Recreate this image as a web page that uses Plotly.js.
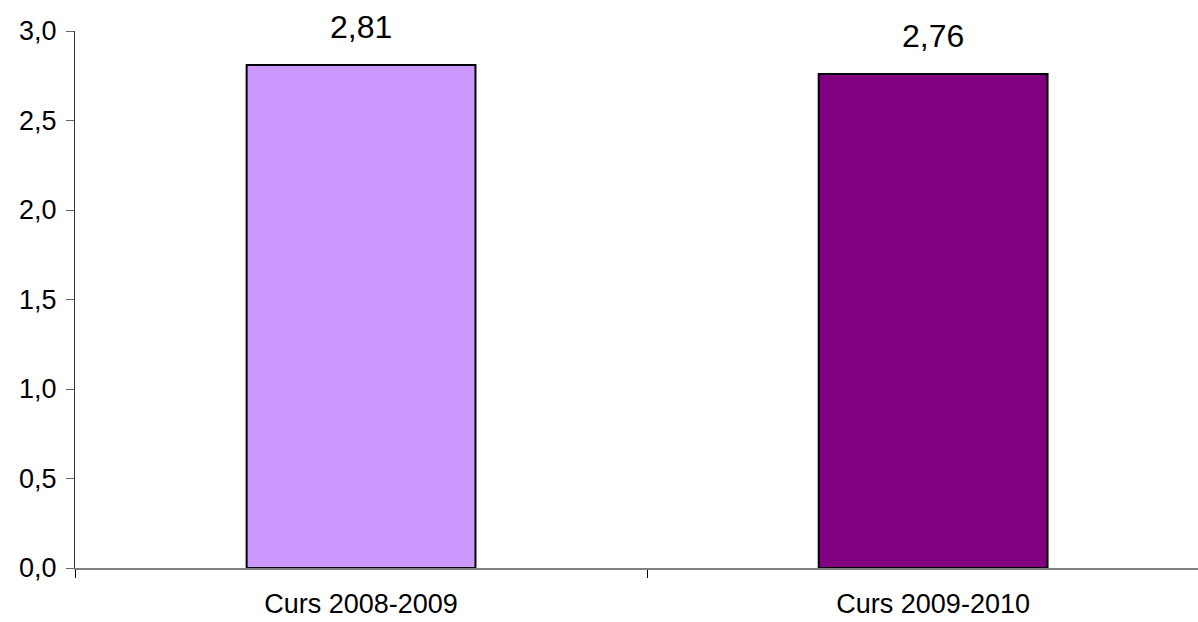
<!DOCTYPE html>
<html><head><meta charset="utf-8">
<script src="https://cdn.plot.ly/plotly-3.0.1.min.js"></script>
<style>html,body{margin:0;padding:0;background:#fff}</style>
</head><body>
<div id="chart" style="width:1198px;height:622px"></div>
<script>
const categories = ["Curs 2008-2009", "Curs 2009-2010"];
const values = [2.81, 2.76];
const barColors = ["#CC99FF", "#800080"];
const yTicks = [0, 0.5, 1, 1.5, 2, 2.5, 3];

const FONT = "Liberation Sans, Arial, sans-serif";

const trace = {
  type: "bar",
  x: categories,
  y: values,
  marker: {color: barColors, line: {color: "#000", width: 2}},
  width: 0.4,
  hoverinfo: "none"
};

const annotations = categories.map((c, i) => ({
  x: c, y: values[i], xref: "x", yref: "y",
  text: values[i].toFixed(2).replace(".", ","),
  showarrow: false, yanchor: "bottom", yshift: 18,
  font: {family: FONT, size: 32, color: "#000"}
}));

const layout = {
  width: 1198, height: 622,
  margin: {l: 75, r: 0, t: 31, b: 54},
  separators: ",.",
  paper_bgcolor: "#fff", plot_bgcolor: "#fff",
  showlegend: false,
  font: {family: FONT, color: "#000"},
  annotations: annotations,
  xaxis: {
    type: "category",
    range: [-0.5, 1.463],
    tickson: "boundaries",
    ticks: "outside", ticklen: 8, tickcolor: "#000", tickwidth: 1,
    showline: true, linecolor: "#808080", linewidth: 2,
    showgrid: false, zeroline: false,
    tickfont: {family: FONT, size: 27, color: "#000"},
    ticklabelstandoff: 11
  },
  yaxis: {
    range: [0, 3],
    tickvals: yTicks,
    tickformat: ".1f",
    ticks: "outside", ticklen: 8, tickcolor: "#666", tickwidth: 1,
    showline: true, linecolor: "#333", linewidth: 1,
    showgrid: false, zeroline: false,
    tickfont: {family: FONT, size: 27, color: "#000"},
    ticklabelstandoff: 4
  },
  bargap: 0.6
};

Plotly.newPlot("chart", [trace], layout, {displayModeBar: false, staticPlot: true});
</script>
</body></html>
